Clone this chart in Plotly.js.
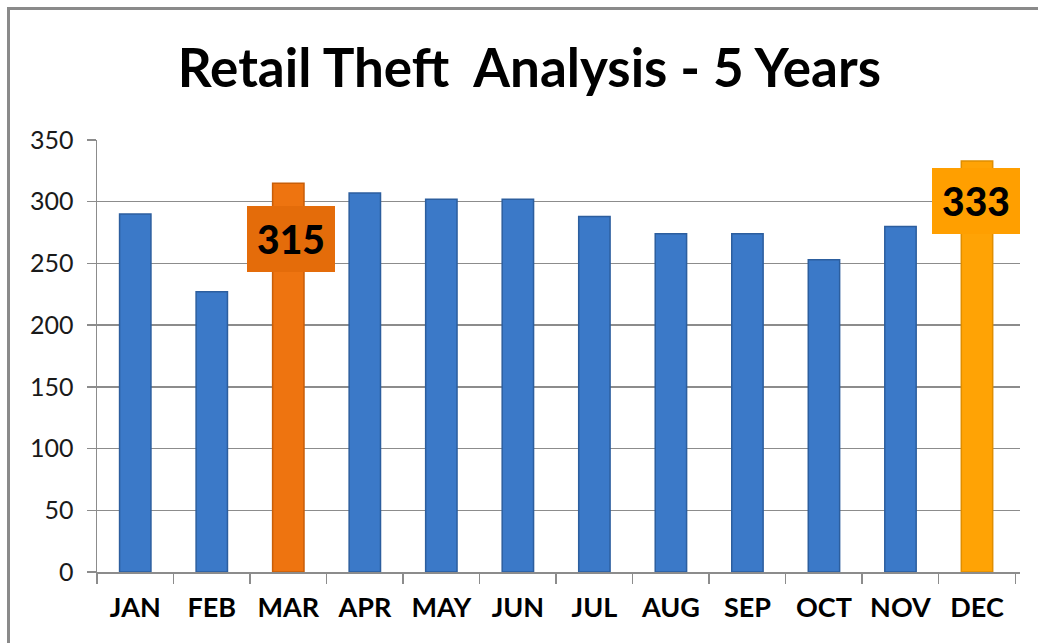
<!DOCTYPE html>
<html>
<head>
<meta charset="utf-8">
<script src="https://cdn.plot.ly/plotly-3.0.1.min.js"></script>
<style>
  html, body { margin: 0; padding: 0; background: #fff; }
  #wrap { position: relative; width: 1038px; height: 643px; overflow: hidden; }
  #chart { position: absolute; left: 0; top: 0; width: 1038px; height: 643px; }
  #frame { position: absolute; left: 7px; top: 7px; width: 1040px; height: 650px;
           border-left: 3px solid #8a8a8a; border-top: 3px solid #8a8a8a; pointer-events: none; }
</style>
</head>
<body>
<div id="wrap">
  <div id="chart"></div>
  <div id="frame"></div>
</div>
<script>
const months = ["JAN","FEB","MAR","APR","MAY","JUN","JUL","AUG","SEP","OCT","NOV","DEC"];
const thefts = [290, 227, 315, 307, 302, 302, 288, 274, 274, 253, 280, 333];
const yTicks = [0, 50, 100, 150, 200, 250, 300, 350];
const highlighted = ["MAR", "DEC"];

const fillColors = months.map(m => m === "MAR" ? "#ee7410" : (m === "DEC" ? "#ffa305" : "#3b79c8"));
const lineColors = months.map(m => m === "MAR" ? "#c85e08" : (m === "DEC" ? "#e08e00" : "#2c5e9e"));
const boxColors = { MAR: "#e46c0a", DEC: "#ff9f00" };
const boxShift = { MAR: -56, DEC: -40 };

const trace = {
  type: "bar",
  x: months,
  y: thefts,
  marker: { color: fillColors, line: { color: lineColors, width: 1.5 } },
  hoverinfo: "x+y"
};

const annotations = highlighted.map(m => {
  const i = months.indexOf(m);
  return {
    x: m, y: thefts[i], xref: "x", yref: "y",
    text: String(thefts[i]),
    showarrow: false,
    yanchor: "middle", xanchor: "center",
    yshift: boxShift[m], xshift: m === "MAR" ? 3 : -1,
    bgcolor: boxColors[m],
    width: 84, height: 62, borderpad: 2, borderwidth: 0,
    font: { family: "Lato, 'Open Sans', sans-serif", size: 39, color: "#000", weight: 900 }
  };
});

const layout = {
  width: 1038, height: 643,
  margin: { l: 97, r: 18, t: 140, b: 71 },
  paper_bgcolor: "rgba(0,0,0,0)",
  plot_bgcolor: "#fff",
  showlegend: false,
  bargap: 0.59,
  title: {
    text: "<b>Retail Theft  Analysis - 5 Years</b>",
    x: 0.51, xanchor: "center",
    y: 0.893, yanchor: "middle",
    font: { family: "Lato, 'Open Sans', sans-serif", size: 53, color: "#000" }
  },
  xaxis: {
    type: "category",
    categoryarray: months,
    showline: true, linecolor: "#8c8c8c", linewidth: 1.5,
    ticks: "outside", tickson: "boundaries", ticklen: 10, tickcolor: "#8c8c8c", tickwidth: 1.5,
    showgrid: false,
    tickfont: { family: "Lato, 'Open Sans', sans-serif", size: 27, color: "#000", weight: "bold" },
    ticklabelstandoff: 11
  },
  yaxis: {
    range: [0, 350],
    tickvals: yTicks,
    ticktext: yTicks.map(String),
    showline: true, linecolor: "#8c8c8c", linewidth: 1.5,
    ticks: "outside", ticklen: 9, tickcolor: "#8c8c8c", tickwidth: 1.5,
    showgrid: true, gridcolor: "#8c8c8c", gridwidth: 1.3,
    zeroline: false,
    tickfont: { family: "Lato, 'Open Sans', sans-serif", size: 25, color: "#1a1a1a" },
    ticklabelstandoff: 8
  },
  annotations: annotations
};

Plotly.newPlot("chart", [trace], layout, { displayModeBar: false, staticPlot: true });
</script>
</body>
</html>
